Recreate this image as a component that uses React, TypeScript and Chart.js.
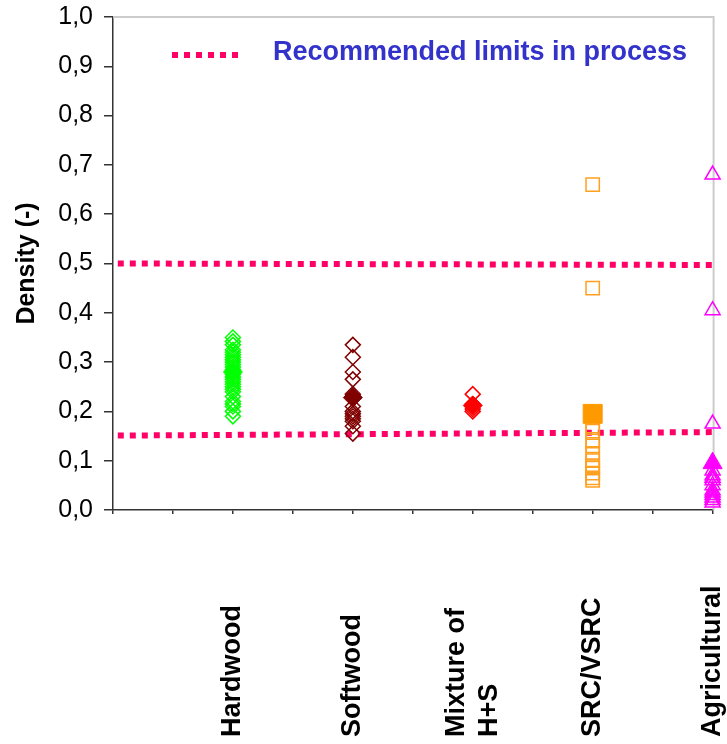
import React, { useEffect, useRef } from "react";
import { Chart, registerables } from "chart.js";

Chart.register(...registerables);

const categories = ["Hardwood", "Softwood", "Mixture of\nH+S", "SRC/VSRC", "Agricultural"];
const categoryPositions = [2, 4, 6, 8, 10];

const hardwoodValues = [0.35, 0.342, 0.335, 0.325, 0.32, 0.315, 0.31, 0.305, 0.3, 0.295, 0.29, 0.285, 0.28, 0.275, 0.27, 0.265, 0.26, 0.255, 0.25, 0.245, 0.24, 0.23, 0.22, 0.215, 0.21, 0.2, 0.19];
const hardwoodMean = 0.28;
const softwoodValues = [0.335, 0.31, 0.28, 0.265, 0.235, 0.23, 0.21, 0.2, 0.195, 0.19, 0.185, 0.18, 0.17, 0.155];
const softwoodMean = 0.228;
const mixtureValues = [0.235, 0.215, 0.205, 0.2];
const mixtureMean = 0.212;
const srcValues = [0.66, 0.45, 0.17, 0.16, 0.14, 0.13, 0.115, 0.1, 0.09, 0.085, 0.075, 0.065, 0.06];
const srcMean = 0.195;
const agriValues = [0.68, 0.405, 0.175, 0.08, 0.07, 0.065, 0.06, 0.05, 0.04, 0.035, 0.03, 0.025, 0.02, 0.015];
const agriMean = 0.095;

const upperLimitX = [0.08, 10];
const upperLimitY = [0.5, 0.497];
const lowerLimitX = [0.08, 10];
const lowerLimitY = [0.151, 0.158];

const yTicks = [0, 0.1, 0.2, 0.3, 0.4, 0.5, 0.6, 0.7, 0.8, 0.9, 1.0];
const legendText = "Recommended limits in process";
const yTitle = "Density (-)";

const FONT = "'Liberation Sans', Arial, Helvetica, sans-serif";
const LIMIT_COLOR = "#FF0066";

function pts(xv: number, ys: number[]) {
  return ys.map((y) => ({ x: xv, y }));
}

export default function App() {
  const ref = useRef<HTMLCanvasElement | null>(null);

  useEffect(() => {
    if (!ref.current) return;

    const openSet = (label: string, xv: number, ys: number[], color: string, style: string, r: number) => ({
      label,
      data: pts(xv, ys),
      pointStyle: style,
      pointRadius: r,
      pointBorderColor: color,
      pointBackgroundColor: "rgba(0,0,0,0)",
      pointBorderWidth: 1.5,
      showLine: false,
      clip: false,
    });
    const filledSet = (label: string, xv: number, y: number, color: string, style: string, r: number) => ({
      label,
      data: [{ x: xv, y }],
      pointStyle: style,
      pointRadius: r,
      pointBorderColor: color,
      pointBackgroundColor: color,
      pointBorderWidth: 1,
      showLine: false,
      clip: false,
    });
    const limitSet = (label: string, xs: number[], ys: number[]) => ({
      label,
      data: xs.map((x, i) => ({ x, y: ys[i] })),
      showLine: true,
      borderColor: LIMIT_COLOR,
      borderWidth: 6,
      borderDash: [6, 6],
      borderCapStyle: "butt",
      pointRadius: 0,
      clip: false,
    });

    const decor = {
      id: "decor",
      beforeDatasetsDraw(chart: any) {
        const { ctx, chartArea } = chart;
        ctx.save();
        ctx.strokeStyle = "#CCCCCC";
        ctx.lineWidth = 2;
        ctx.beginPath();
        ctx.moveTo(chartArea.left, chartArea.top);
        ctx.lineTo(chartArea.right + 1, chartArea.top);
        ctx.lineTo(chartArea.right + 1, chartArea.bottom);
        ctx.stroke();
        ctx.restore();
      },
      afterDraw(chart: any) {
        const { ctx } = chart;
        const xs = chart.scales.x;
        ctx.save();
        // legend
        ctx.strokeStyle = LIMIT_COLOR;
        ctx.lineWidth = 6;
        ctx.setLineDash([6, 6]);
        ctx.beginPath();
        ctx.moveTo(172, 55);
        ctx.lineTo(244, 55);
        ctx.stroke();
        ctx.setLineDash([]);
        ctx.fillStyle = "#3333CC";
        ctx.font = `bold 27px ${FONT}`;
        ctx.textAlign = "left";
        ctx.textBaseline = "middle";
        ctx.fillText(legendText, 273, 53);
        // category labels
        ctx.fillStyle = "#000000";
        ctx.font = `bold 27px ${FONT}`;
        categories.forEach((c, i) => {
          const px = xs.getPixelForValue(categoryPositions[i]);
          const lines = c.split("\n");
          ctx.save();
          ctx.translate(px, 737);
          ctx.rotate(-Math.PI / 2);
          ctx.textAlign = "left";
          ctx.textBaseline = "middle";
          lines.forEach((ln, j) => {
            ctx.fillText(ln, 0, (j - (lines.length - 1) / 2) * 33);
          });
          ctx.restore();
        });
        ctx.restore();
      },
    };

    const chart = new Chart(ref.current, {
      type: "scatter",
      data: {
        datasets: [
          filledSet("Hardwood mean", categoryPositions[0], hardwoodMean, "#00FF00", "rectRot", 9.5),
          openSet("Hardwood", categoryPositions[0], hardwoodValues, "#00FF00", "rectRot", 7.5),
          filledSet("Softwood mean", categoryPositions[1], softwoodMean, "#800000", "rectRot", 9.5),
          openSet("Softwood", categoryPositions[1], softwoodValues, "#800000", "rectRot", 7.5),
          filledSet("Mixture mean", categoryPositions[2], mixtureMean, "#FF0000", "rectRot", 9.5),
          openSet("Mixture", categoryPositions[2], mixtureValues, "#FF0000", "rectRot", 7.5),
          filledSet("SRC mean", categoryPositions[3], srcMean, "#FF9900", "rect", 13.4),
          openSet("SRC/VSRC", categoryPositions[3], srcValues, "#FFA020", "rect", 9.4),
          filledSet("Agricultural mean", categoryPositions[4], agriMean, "#FF00FF", "triangle", 11),
          openSet("Agricultural", categoryPositions[4], agriValues, "#FF00FF", "triangle", 8.7),
          limitSet("Upper limit", upperLimitX, upperLimitY),
          limitSet("Lower limit", lowerLimitX, lowerLimitY),
        ] as any,
      },
      options: {
        animation: false,
        responsive: true,
        maintainAspectRatio: false,
        layout: { padding: { top: 17, right: 10, left: 0, bottom: 0 } },
        plugins: {
          legend: { display: false },
          tooltip: { enabled: false },
        },
        scales: {
          x: {
            type: "linear",
            min: 0,
            max: 10,
            afterFit: (s: any) => {
              s.height = 234;
              s.paddingLeft = 0;
              s.paddingRight = 0;
            },
            ticks: { stepSize: 1, callback: () => "", autoSkip: false, maxRotation: 0 },
            grid: { drawOnChartArea: false, drawTicks: true, tickLength: 4, color: "#333333", lineWidth: 1.5 },
            border: { color: "#333333", width: 1.5 },
          },
          y: {
            type: "linear",
            min: 0,
            max: 1,
            afterFit: (s: any) => {
              s.width = 113;
              s.paddingTop = 0;
              s.paddingBottom = 0;
            },
            afterBuildTicks: (s: any) => {
              s.ticks = yTicks.map((v) => ({ value: v }));
            },
            ticks: {
              padding: 11,
              color: "#000000",
              font: { family: FONT, size: 25 },
              callback: (v: any) => Number(v).toFixed(1).replace(".", ","),
            },
            grid: { drawOnChartArea: false, drawTicks: true, tickLength: 9, color: "#333333", lineWidth: 1.5 },
            border: { color: "#333333", width: 1.5 },
            title: {
              display: true,
              text: yTitle,
              color: "#000000",
              font: { family: FONT, size: 25, weight: "bold" },
              padding: { top: 12, bottom: 0 },
            },
          },
        },
      },
      plugins: [decor],
    } as any);

    return () => chart.destroy();
  }, []);

  return (
    <div style={{ position: "absolute", left: 0, top: 0, width: 727, height: 744 }}>
      <canvas ref={ref} />
    </div>
  );
}
